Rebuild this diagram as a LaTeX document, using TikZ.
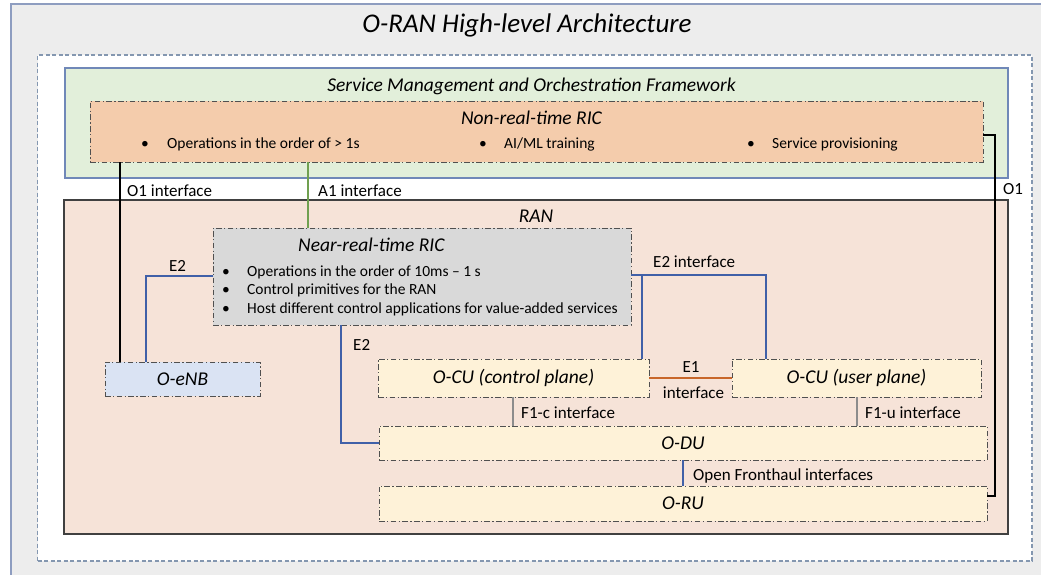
\documentclass[tikz,border=0pt]{standalone}
\usepackage{fontspec}
\setmainfont{Carlito}
\definecolor{outerbg}{HTML}{EDEDED}
\definecolor{outerc}{HTML}{8E9DC0}
\definecolor{framec}{HTML}{8497B0}
\definecolor{smofill}{HTML}{E2EFDA}
\definecolor{smoc}{HTML}{7088B8}
\definecolor{nrtfill}{HTML}{F4CCAC}
\definecolor{ranfill}{HTML}{F6E3D8}
\definecolor{ranc}{HTML}{404040}
\definecolor{nearfill}{HTML}{D9D9D9}
\definecolor{enbfill}{HTML}{DAE3F3}
\definecolor{cufill}{HTML}{FEF2D8}
\definecolor{ddc}{HTML}{505050}
\definecolor{bluec}{HTML}{4060A8}
\definecolor{greenc}{HTML}{70A050}
\definecolor{orangec}{HTML}{C8662A}
\definecolor{grayc}{HTML}{8C8C8C}
\begin{document}
\begin{tikzpicture}[x=1pt,y=-1pt,
  box/.style={rectangle, inner sep=0pt, outer sep=0pt, anchor=north west},
  dd/.style={draw=ddc, line width=1pt, dash pattern=on 5.5pt off 2.5pt on 1.2pt off 2.5pt},
  head/.style={font=\fontsize{19.5}{22}\selectfont\itshape},
  body/.style={font=\fontsize{15.5}{18}\selectfont, inner sep=0pt},
  lbl/.style={font=\fontsize{17}{20}\selectfont, inner sep=0pt},
  bluel/.style={draw=bluec, line width=2.9pt},
  greenl/.style={draw=greenc, line width=2.9pt},
  orangel/.style={draw=orangec, line width=2.9pt},
  grayl/.style={draw=grayc, line width=2.9pt},
  o1l/.style={draw=black, line width=2.6pt}]
\useasboundingbox (0,0) rectangle (1041,574);
\clip (0,0) rectangle (1041,574);
% frames
\node[box, draw=outerc, line width=1.6pt, fill=outerbg, minimum width=1060, minimum height=620] (outer) at (11,4) {};
\node[font=\fontsize{27}{31}\selectfont\itshape, anchor=base, inner sep=0pt] (title) at (527,32) {O-RAN High-level Architecture};
\node[box, draw=framec, fill=white, line width=1.3pt, dash pattern=on 4pt off 2.5pt, minimum width=994.5, minimum height=506] (frame) at (37.5,55) {};
% SMO
\node[box, draw=smoc, fill=smofill, line width=1.2pt, minimum width=943, minimum height=110] (smo) at (65,68) {};
\node[head, anchor=base, inner sep=0pt] (smot) at (531.5,91) {Service Management and Orchestration Framework};
\node[box, dd, fill=nrtfill, minimum width=893, minimum height=61] (nrt) at (90,101) {};
\node[head, anchor=base, inner sep=0pt] (nrtt) at (531.5,124) {Non-real-time RIC};
\node[body, anchor=base] (nb1) at (145,148) {•};
\node[body, anchor=base west] (nt1) at (167,148) {Operations in the order of > 1s};
\node[body, anchor=base] (nb2) at (483,148) {•};
\node[body, anchor=base west] (nt2) at (504,148) {AI/ML training};
\node[body, anchor=base] (nb3) at (751,148) {•};
\node[body, anchor=base west] (nt3) at (772,148) {Service provisioning};
% RAN
\node[box, draw=ranc, fill=ranfill, line width=1.5pt, minimum width=944, minimum height=334] (ran) at (64,200) {};
\node[head, anchor=base, inner sep=0pt] (rant) at (536,222) {RAN};
\node[box, dd, fill=nearfill, minimum width=418, minimum height=97] (nearrt) at (213,228) {};
\node[head, anchor=base west, inner sep=0pt] (neart) at (298,251) {Near-real-time RIC};
\node[body, anchor=base] (rb1) at (226,276) {•};
\node[body, anchor=base west] (rt1) at (247,276) {Operations in the order of 10ms – 1 s};
\node[body, anchor=base] (rb2) at (226,294.5) {•};
\node[body, anchor=base west] (rt2) at (247,294.5) {Control primitives for the RAN};
\node[body, anchor=base] (rb3) at (226,313) {•};
\node[body, anchor=base west] (rt3) at (247,313) {Host different control applications for value-added services};
\node[box, dd, fill=enbfill, minimum width=155, minimum height=34, head] (oenb) at (105,362) {O-eNB};
\node[box, dd, fill=cufill, minimum width=271, minimum height=38, head] (ocucp) at (378,359) {O-CU (control plane)};
\node[box, dd, fill=cufill, minimum width=249, minimum height=38, head] (ocuup) at (732,359) {O-CU (user plane)};
\node[box, dd, fill=cufill, minimum width=608, minimum height=34, head] (odu) at (379,426) {O-DU};
\node[box, dd, fill=cufill, minimum width=608, minimum height=35, head] (oru) at (379,486) {O-RU};
% connectors
\coordinate (o1x) at (120,0);
\draw[o1l] (nrt.south -| o1x) -- (oenb.north -| o1x);
\coordinate (a1x) at (308,0);
\draw[greenl] (nrt.south -| a1x) -- (nearrt.north -| a1x);
\coordinate (e2a) at (146,276);
\draw[bluel] (nearrt.west |- e2a) -- (e2a) -- (oenb.north -| e2a);
\coordinate (e2b) at (341,0);
\draw[bluel] (nearrt.south -| e2b) |- (odu.west);
\coordinate (e2c) at (642,275);
\coordinate (e2d) at (766,275);
\draw[bluel] (nearrt.east |- e2c) -- (e2d) -- (ocuup.north -| e2d);
\draw[bluel] (e2c) -- (ocucp.north -| e2c);
\draw[orangel] (ocucp.east) -- (ocuup.west);
\coordinate (f1c) at (513,0);
\draw[grayl] (ocucp.south -| f1c) -- (odu.north -| f1c);
\coordinate (f1u) at (857,0);
\draw[grayl] (ocuup.south -| f1u) -- (odu.north -| f1u);
\coordinate (fh) at (683,0);
\draw[bluel] (odu.south -| fh) -- (oru.north -| fh);
\coordinate (o1a) at (995,135);
\coordinate (o1b) at (995,496);
\draw[o1l] (nrt.east |- o1a) -- (o1a) -- (o1b) -- (oru.east |- o1b);
% labels
\node[lbl, anchor=base west] (lo1) at (127,196) {O1 interface};
\node[lbl, anchor=base west] (la1) at (318,196) {A1 interface};
\node[lbl, anchor=base west] (lo1r) at (1003,194) {O1};
\node[lbl, anchor=base west] (le2a) at (169,271) {E2};
\node[lbl, anchor=base west] (le2c) at (653,267) {E2 interface};
\node[lbl, anchor=base west] (le2b) at (353,350) {E2};
\node[lbl, anchor=base] (le1) at (691,372) {E1};
\node[lbl, anchor=base] (le1b) at (693.5,398) {interface};
\node[lbl, anchor=base west] (lf1c) at (521,418) {F1-c interface};
\node[lbl, anchor=base west] (lf1u) at (865,418) {F1-u interface};
\node[lbl, anchor=base west] (lfh) at (693,480) {Open Fronthaul interfaces};
\end{tikzpicture}
\end{document}
